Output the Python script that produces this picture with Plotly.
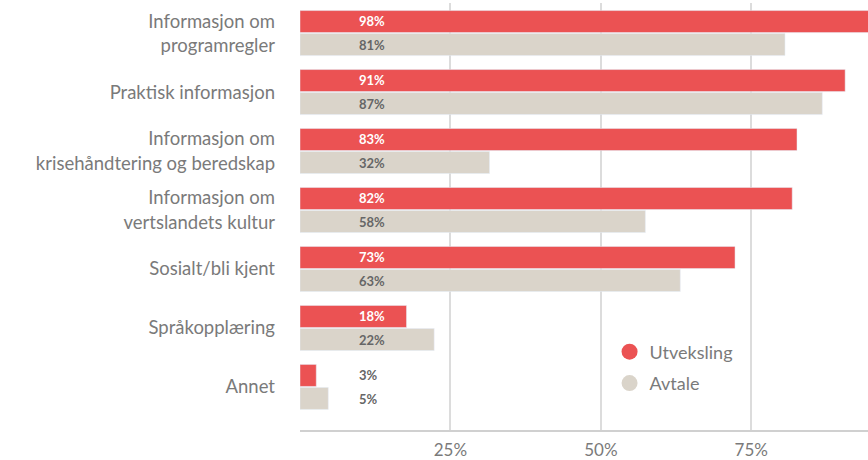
import plotly.graph_objects as go

categories = [
    "Informasjon om<br>programregler",
    "Praktisk informasjon",
    "Informasjon om<br>krisehåndtering og beredskap",
    "Informasjon om<br>vertslandets kultur",
    "Sosialt/bli kjent",
    "Språkopplæring",
    "Annet",
]
utveksling = [98.0, 90.6, 82.6, 81.8, 72.3, 17.7, 2.7]
avtale = [80.6, 86.8, 31.5, 57.4, 63.2, 22.3, 4.7]
utveksling_labels = ["98%", "91%", "83%", "82%", "73%", "18%", "3%"]
avtale_labels = ["81%", "87%", "32%", "58%", "63%", "22%", "5%"]
tick_vals = [25, 50, 75]
tick_text = ["25%", "50%", "75%"]

RED = "#EB5253"
BEIGE = "#DAD4CA"
GREY_TXT = "#7a7a7a"
FONT = "Lato, Open Sans, sans-serif"
LABEL_X = 9.4

fig = go.Figure()
fig.add_trace(go.Bar(y=categories, x=utveksling, orientation="h", marker_color=RED,
                     name="Utveksling", showlegend=False, hoverinfo="skip"))
fig.add_trace(go.Bar(y=categories, x=avtale, orientation="h", marker_color=BEIGE,
                     name="Avtale", showlegend=False, hoverinfo="skip"))
# legend entries with circle markers
fig.add_trace(go.Scatter(x=[None], y=[None], mode="markers", name="Utveksling", legendgroup="a",
                         marker=dict(color=RED, size=16, symbol="circle")))
fig.add_trace(go.Scatter(x=[None], y=[None], mode="markers", name="Avtale", legendgroup="b",
                         marker=dict(color=BEIGE, size=16, symbol="circle")))

annotations = []
for cat, v, lab in zip(categories, utveksling, utveksling_labels):
    annotations.append(dict(x=LABEL_X, y=cat, xref="x", yref="y", text=lab, showarrow=False,
                            xanchor="left", yshift=12,
                            font=dict(family=FONT, size=13, color="white" if v > 15 else "#666666", weight="bold")))
for cat, v, lab in zip(categories, avtale, avtale_labels):
    annotations.append(dict(x=LABEL_X, y=cat, xref="x", yref="y", text=lab, showarrow=False,
                            xanchor="left", yshift=-12,
                            font=dict(family=FONT, size=13, color="#666666", weight="bold")))

fig.update_layout(
    width=868, height=460,
    margin=dict(l=300, r=0, t=3, b=30),
    paper_bgcolor="white", plot_bgcolor="white",
    barmode="group", bargap=0.22, bargroupgap=0.043,
    font=dict(family=FONT, color=GREY_TXT),
    annotations=annotations,
    legend=dict(x=0.545, y=0.226, xanchor="left", yanchor="top",
                font=dict(family=FONT, size=18, color=GREY_TXT),
                bgcolor="rgba(0,0,0,0)", tracegroupgap=5),
    xaxis=dict(range=[0, 94.4], tickvals=tick_vals, ticktext=tick_text,
               showgrid=True, gridcolor="#dcdcdc", gridwidth=1.5,
               zeroline=False, showline=True, linecolor="#d0d0d0", linewidth=1.5,
               ticks="", ticklabelstandoff=4,
               tickfont=dict(family=FONT, size=17, color=GREY_TXT), fixedrange=True),
    yaxis=dict(range=[6.73, -0.51], type="category", showgrid=False, zeroline=False,
               ticks="", ticklabelstandoff=24,
               tickfont=dict(family=FONT, size=18.5, color=GREY_TXT), fixedrange=True),
)

fig.write_html("out.html", config={"displayModeBar": False},
               post_script="document.body.style.margin='0';document.body.style.overflow='hidden';")
